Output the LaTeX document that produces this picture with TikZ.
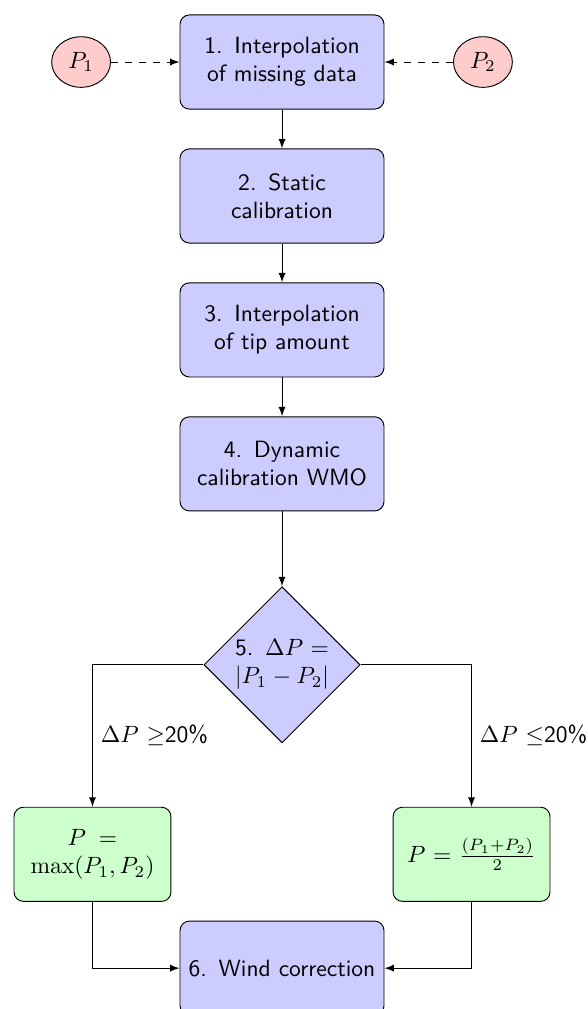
\documentclass[tikz,border=0pt]{standalone}
\usepackage{tikz}
\usetikzlibrary{positioning}
\usetikzlibrary{shapes.geometric}

\begin{document}
\begin{tikzpicture}[
		font=\sffamily,
		block/.style={rectangle,draw,fill=blue!20,text width=8em,align=center,rounded corners,minimum height=4em},
		result/.style={rectangle,draw,fill=green!20,text width=6em,align=center,rounded corners,minimum height=4em},
		decision/.style={diamond,draw,fill=blue!20,text width=4.5em,align=center,inner sep=0pt,minimum width=66pt,minimum height=66pt},
		source/.style={ellipse,draw,fill=red!20,minimum width=25pt,minimum height=21.5pt,inner sep=1pt},
		link/.style={draw,-latex}
	]
				
				\useasboundingbox (-4.211,-14.14) rectangle (4.554,0.926);
				
				\node[block] (B1) at (0,0) {1. Interpolation of missing data};
				\node[source] (P1) at (-3,0) {$P_1$};
				\node[source] (P2) at (3,0) {$P_2$};
				
				\draw[link,dashed] (P1) -- (B1);
				\draw[link,dashed] (P2) -- (B1);
				
				\node[block] (B2) at (0,-2) {2. Static calibration};
				\node[block] (B3) at (0,-4) {3. Interpolation of tip amount};
				\node[block] (B4) at (0,-6) {4. Dynamic calibration WMO};
				
				\draw[link] (B1) -- (B2);
				\draw[link] (B2) -- (B3);
				\draw[link] (B3) -- (B4);
				
				\node[decision] (D5) at (0,-9) {5. $\Delta P = |P_1 - P_2|$};
				
				\draw[link] (B4) -- (D5);
				
				\node[result] (GL) at (-2.83,-11.83) {$P = \max(P_1,P_2)$};
				\node[result] (GR) at (2.83,-11.83) {$P = \frac{(P_1+P_2)}{2}$};
				
				\draw[link] (D5) -| node[pos=0.75,right] {$\Delta P$ $\geq$20\%} (GL);
				\draw[link] (D5) -| node[pos=0.75,right] {$\Delta P$ $\leq$20\%} (GR);
				
				\node[block] (B6) at (0,-13.53) {6. Wind correction};
				
				\draw[link] (GL) |- (B6);
				\draw[link] (GR) |- (B6);
				
			\end{tikzpicture}
\end{document}
